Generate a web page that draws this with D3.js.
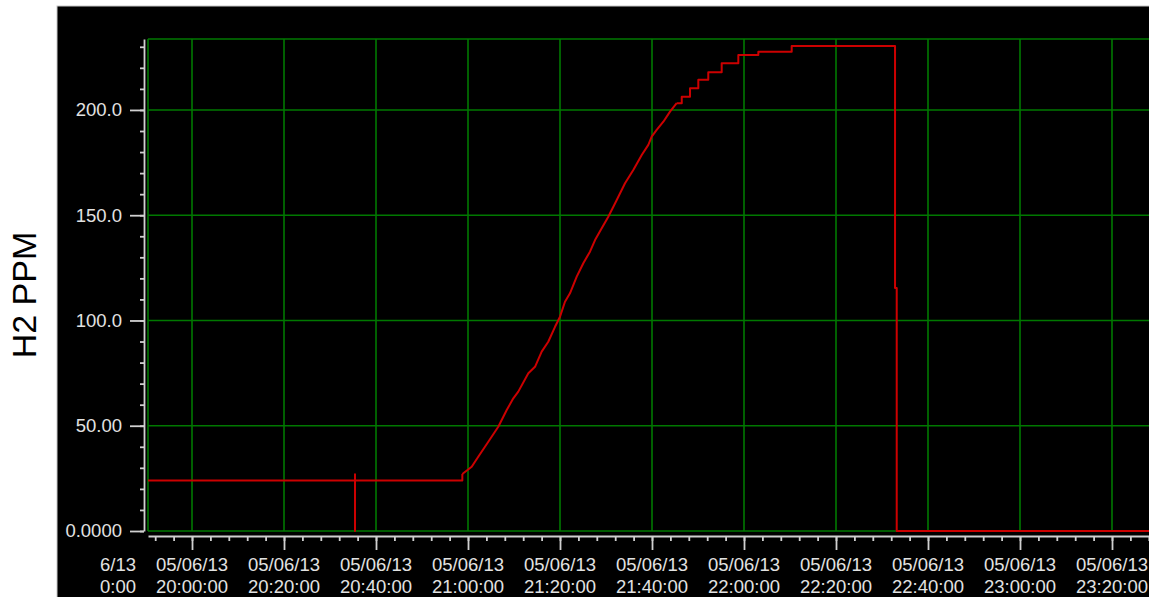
<html>
    <head>
        <script src="https://d3js.org/d3.v7.min.js"></script>
        <style>
            body { margin: 0; background: #fff; }
            .axis text { font-family: "Liberation Sans", Arial, sans-serif; }
        </style>
    </head>
    <body>
        <svg id="chart" width=1149 height=597></svg>
        <script>
            // H2 readings (time of each step, ppm)
            const times = ["19:50:00", "20:35:26", "20:35:26", "20:35:26", "20:58:46", "21:00:48", "21:02:14",
                "21:04:25", "21:06:35", "21:08:25", "21:09:51", "21:10:56", "21:13:07", "21:14:34", "21:16:01",
                "21:17:27", "21:18:55", "21:20:00", "21:21:05", "21:22:10", "21:23:38", "21:25:04", "21:26:31",
                "21:27:37", "21:29:04", "21:30:30", "21:32:20", "21:34:08", "21:35:56", "21:37:46", "21:39:12",
                "21:39:56", "21:41:01", "21:42:28", "21:43:55", "21:45:22", "21:46:28", "21:48:16", "21:50:04",
                "21:52:14", "21:55:09", "21:58:46", "22:03:07", "22:10:22", "22:32:50", "22:33:12", "23:40:00"];
            const ppm = [24, 27, 0, 24, 27.1, 30.5, 35.3,
                42.4, 49.5, 57.5, 63, 66.2, 74.9, 78, 85.2,
                89.9, 97, 101.8, 108.9, 112.9, 120.8, 127.2, 132.7,
                138.2, 143.8, 149.3, 157.2, 165.2, 171.5, 178.6, 183.4,
                187.3, 190.5, 194.4, 199.2, 203.2, 206.3, 210.3, 214.3,
                217.9, 222.2, 226.1, 227.7, 230.4, 115.4, 0, 0];
            // the steep part of the ramp is drawn as a straight trace, the rest as steps
            const rampStart = "20:58:46";
            const rampEnd = "21:45:22";

            const yTicks = [0, 50, 100, 150, 200];
            const yTickLabels = ["0.0000", "50.00", "100.0", "150.0", "200.0"];
            const xTickTimes = ["19:40:00", "20:00:00", "20:20:00", "20:40:00", "21:00:00", "21:20:00",
                "21:40:00", "22:00:00", "22:20:00", "22:40:00", "23:00:00", "23:20:00"];
            const dateLabel = "05/06/13";

            const parse = d3.timeParse("%Y-%m-%d %H:%M:%S");
            const toDate = t => parse("2013-05-06 " + t);
            const data = times.map((t, i) => ({t: toDate(t), v: ppm[i]}));

            const svg = d3.select('svg#chart');
            const plot = {left: 148, right: 1158, top: 39, bottom: 531};

            // black panel
            svg.append('rect')
                .attr('x', 57).attr('y', 6).attr('width', 1100).attr('height', 600)
                .attr('fill', '#000').attr('stroke', '#c8c8c8').attr('stroke-width', 1);

            // axis title
            svg.append('text')
                .attr('transform', 'translate(36,295) rotate(-90)')
                .attr('text-anchor', 'middle')
                .attr('font-family', '"Liberation Sans", Arial, sans-serif')
                .attr('font-size', 34)
                .attr('fill', '#000')
                .text('H2 PPM');

            // scales
            const xScale = d3.scaleTime()
                .domain([toDate("19:50:26"), toDate("23:30:00")])
                .range([plot.left, plot.right]);
            const yScale = d3.scaleLinear().domain([0, 233.7]).range([plot.bottom, plot.top]);

            const majorTimes = xTickTimes.map(toDate);
            const inRange = d => d >= xScale.domain()[0] && d <= xScale.domain()[1];

            // gridlines
            const grid = svg.append('g').attr('stroke', '#007800').attr('stroke-width', 1.6);
            grid.selectAll('line.h')
                .data(yTicks.concat([233.7]))
                .join('line')
                .attr('x1', plot.left).attr('x2', plot.right)
                .attr('y1', d => yScale(d)).attr('y2', d => yScale(d));
            grid.selectAll('line.v')
                .data([xScale.domain()[0]].concat(majorTimes.filter(inRange)))
                .join('line')
                .attr('x1', d => xScale(d)).attr('x2', d => xScale(d))
                .attr('y1', plot.top).attr('y2', plot.bottom);

            // y axis
            const yAxisG = svg.append('g').attr('class', 'axis')
                .attr('transform', 'translate(144,0)');
            yAxisG.call(d3.axisLeft(yScale).tickValues(d3.range(0, 233, 10)).tickSize(4).tickSizeOuter(0).tickFormat(''));
            yAxisG.append('g')
                .call(d3.axisLeft(yScale).tickValues(yTicks).tickSize(14).tickPadding(8)
                    .tickFormat((d, i) => yTickLabels[i]))
                .call(g => g.select('.domain').remove());
            yAxisG.selectAll('path, line').attr('stroke', '#d0d0d0').attr('stroke-width', 1.8);
            yAxisG.selectAll('text').attr('fill', '#e2e2e2').attr('font-size', 18.5);

            // x axis
            const xAxisG = svg.append('g').attr('class', 'axis')
                .attr('transform', `translate(0,${plot.bottom + 5})`);
            xAxisG.call(d3.axisBottom(xScale).ticks(d3.timeMinute.every(4)).tickSize(5).tickSizeOuter(0).tickFormat(''));
            xAxisG.append('g')
                .call(d3.axisBottom(xScale).tickValues(majorTimes.filter(inRange)).tickSize(14).tickFormat(''))
                .call(g => g.select('.domain').remove());
            xAxisG.selectAll('path, line').attr('stroke', '#d0d0d0').attr('stroke-width', 1.8);

            // x tick labels, two lines, clipped on the left
            svg.append('clipPath').attr('id', 'labelClip')
                .append('rect').attr('x', 100).attr('y', 540).attr('width', 1100).attr('height', 60);
            const fmt = d3.timeFormat('%H:%M:%S');
            const labels = svg.append('g').attr('class', 'axis').attr('clip-path', 'url(#labelClip)')
                .selectAll('text')
                .data(majorTimes)
                .join('text')
                .attr('x', d => xScale(d))
                .attr('text-anchor', 'middle')
                .attr('font-size', 18.5)
                .attr('fill', '#e2e2e2');
            labels.append('tspan').attr('x', d => xScale(d)).attr('y', 571).text(dateLabel);
            labels.append('tspan').attr('x', d => xScale(d)).attr('y', 593).text(d => fmt(d));

            // data line
            svg.append('clipPath').attr('id', 'plotClip')
                .append('rect').attr('x', plot.left).attr('y', plot.top - 2)
                .attr('width', plot.right - plot.left).attr('height', plot.bottom - plot.top + 4);

            const i0 = times.indexOf(rampStart);
            const i1 = times.indexOf(rampEnd);
            const segments = [
                {pts: data.slice(0, i0 + 1), curve: d3.curveStepAfter},
                {pts: data.slice(i0, i1 + 1), curve: d3.curveLinear},
                {pts: data.slice(i1), curve: d3.curveStepAfter}
            ];
            const lineG = svg.append('g').attr('clip-path', 'url(#plotClip)');
            segments.forEach(s => {
                const line = d3.line()
                    .x(d => xScale(d.t))
                    .y(d => yScale(d.v))
                    .curve(s.curve);
                lineG.append('path')
                    .datum(s.pts)
                    .attr('fill', 'none')
                    .attr('stroke', '#cc0000')
                    .attr('stroke-width', 2)
                    .attr('stroke-linejoin', 'round')
                    .attr('d', line);
            });
        </script>
    </body>
</html>
